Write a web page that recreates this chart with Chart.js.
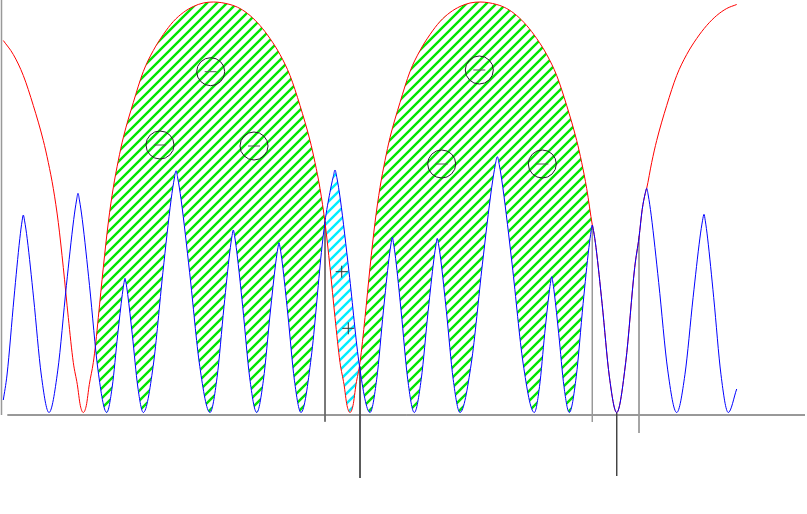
<!DOCTYPE html>
<html>
<head>
<meta charset="utf-8">
<script src="https://cdn.jsdelivr.net/npm/chart.js@4.4.0/dist/chart.umd.min.js"></script>
<style>
  html, body { margin: 0; padding: 0; background: #fff; }
  #wrap { width: 807px; height: 514px; }
</style>
</head>
<body>
<div id="wrap"><canvas id="chart" width="807" height="514"></canvas></div>
<script>
// red arches
var redX = [0.033, 0.133, 0.233, 0.333, 0.433, 0.483, 0.533, 0.583, 0.633, 0.683, 0.733, 0.773, 0.803, 0.833,
  0.863, 0.893, 0.933, 0.958, 0.983, 1.033, 1.083, 1.133, 1.183, 1.233, 1.333, 1.433, 1.533, 1.633, 1.733, 1.833, 1.933, 2.033, 2.135,
  2.30, 2.40, 2.50, 2.60, 2.70, 2.80, 2.90, 3.00, 3.10, 3.15, 3.20, 3.25, 3.30, 3.35, 3.40, 3.44, 3.47, 3.50,
  3.53, 3.56, 3.60, 3.65, 3.70, 3.75, 3.80, 3.85, 3.90, 4.00, 4.10, 4.20, 4.30, 4.40, 4.50, 4.60, 4.70, 4.80,
  4.967, 5.067, 5.167, 5.267, 5.367, 5.467, 5.567, 5.667, 5.767, 5.817, 5.867, 5.923,
  5.935, 5.96, 6.021, 6.094, 6.167, 6.257, 6.347, 6.39, 6.422, 6.452, 6.467,
  6.517, 6.567, 6.667, 6.767, 6.867, 6.967, 7.067, 7.167, 7.267, 7.367];
var redY = [3.72, 3.58, 3.37, 3.07, 2.72, 2.50, 2.24, 1.90, 1.45, 0.95, 0.50, 0.28, 0.07, 0,
  0.07, 0.28, 0.50, 0.70, 0.95, 1.45, 1.90, 2.25, 2.52, 2.75, 3.10, 3.41, 3.62, 3.78, 3.91, 4.00, 4.06, 4.095, 4.105,
  4.08, 4.04, 3.97, 3.87, 3.74, 3.58, 3.37, 3.07, 2.72, 2.50, 2.24, 1.90, 1.45, 0.95, 0.50, 0.28, 0.07, 0,
  0.07, 0.28, 0.50, 0.95, 1.45, 1.90, 2.25, 2.52, 2.75, 3.10, 3.41, 3.62, 3.78, 3.91, 4.00, 4.06, 4.095, 4.105,
  4.08, 4.04, 3.97, 3.87, 3.74, 3.58, 3.37, 3.07, 2.72, 2.50, 2.24, 1.875,
  1.819, 1.65, 1.088, 0.356, 0, 0.50, 1.45, 1.75, 2.03, 2.19, 2.242,
  2.50, 2.72, 3.07, 3.37, 3.58, 3.74, 3.87, 3.97, 4.04, 4.08];

// blue curve
var blueX = [0.033, 0.070, 0.140, 0.198, 0.221, 0.233, 0.246, 0.272, 0.336, 0.413, 0.490,
  0.577, 0.664, 0.737, 0.766, 0.780, 0.794, 0.823, 0.895, 0.981, 1.067,
  1.122, 1.177, 1.223, 1.241, 1.250, 1.259, 1.277, 1.323, 1.378, 1.433,
  1.531, 1.629, 1.711, 1.744, 1.760, 1.777, 1.811, 1.896, 1.998, 2.100,
  2.170, 2.240, 2.298, 2.321, 2.333, 2.345, 2.368, 2.427, 2.497, 2.567,
  2.634, 2.701, 2.757, 2.779, 2.790, 2.801, 2.823, 2.878, 2.944, 3.010,
  3.112, 3.214, 3.250, 3.299, 3.333, 3.350, 3.368, 3.403, 3.490, 3.595, 3.700,
  3.767, 3.834, 3.890, 3.912, 3.923, 3.934, 3.956, 4.011, 4.077, 4.143,
  4.212, 4.281, 4.339, 4.362, 4.373, 4.384, 4.407, 4.464, 4.532, 4.600,
  4.712, 4.824, 4.917, 4.954, 4.973, 4.992, 5.028, 5.121, 5.232, 5.343,
  5.395, 5.447, 5.491, 5.508, 5.517, 5.526, 5.543, 5.587, 5.640, 5.693,
  5.762, 5.831, 5.889, 5.912, 5.923, 5.935, 5.960, 6.021, 6.094, 6.167,
  6.257, 6.347, 6.390, 6.422, 6.452, 6.467, 6.482, 6.512, 6.587, 6.677, 6.767,
  6.849, 6.931, 6.999, 7.026, 7.040, 7.052, 7.076, 7.137, 7.210, 7.283, 7.367];
var blueY = [0.125, 0.375, 1.146, 1.738, 1.916, 1.975, 1.916, 1.738, 1.146, 0.375, 0,
  0.416, 1.271, 1.929, 2.126, 2.192, 2.126, 1.929, 1.271, 0.416, 0,
  0.255, 0.778, 1.181, 1.302, 1.342, 1.302, 1.181, 0.778, 0.255, 0,
  0.459, 1.402, 2.128, 2.345, 2.418, 2.345, 2.128, 1.402, 0.459, 0,
  0.347, 1.059, 1.606, 1.770, 1.825, 1.770, 1.606, 1.059, 0.347, 0,
  0.323, 0.985, 1.494, 1.647, 1.698, 1.647, 1.494, 0.985, 0.323, 0,
  0.55, 1.60, 1.91, 2.20, 2.36, 2.425, 2.352, 2.134, 1.407, 0.461, 0,
  0.333, 1.016, 1.542, 1.699, 1.752, 1.699, 1.542, 1.016, 0.333, 0,
  0.331, 1.010, 1.533, 1.690, 1.742, 1.690, 1.533, 1.010, 0.331, 0,
  0.486, 1.484, 2.251, 2.481, 2.558, 2.481, 2.251, 1.484, 0.486, 0,
  0.258, 0.788, 1.195, 1.317, 1.358, 1.317, 1.195, 0.788, 0.258, 0,
  0.356, 1.088, 1.650, 1.819, 1.875, 1.819, 1.650, 1.088, 0.356, 0,
  0.50, 1.45, 1.75, 2.03, 2.19, 2.242, 2.175, 1.973, 1.300, 0.426, 0,
  0.377, 1.150, 1.744, 1.923, 1.982, 1.923, 1.744, 1.150, 0.377, 0, 0.235];

// signs drawn inside the regions
var minusX = [2.107, 1.600, 2.540, 4.793, 4.417, 5.423];
var minusY = [3.408, 2.675, 2.665, 3.425, 2.485, 2.485];
var plusX = [3.417, 3.483];
var plusY = [1.408, 0.842];

// vertical marks
var dropX = [3.25, 3.60, 5.923, 6.167, 6.39];
var dropTop = [1.91, 0.46, 1.875, 0, 1.76];
var dropBottom = [-0.092, -0.655, -0.095, -0.635, -0.205];

function pts(xs, ys) {
  return xs.map(function(x, i){ return {x: x, y: ys[i]}; });
}

function hatch(color) {
  var s = 10;
  var c = document.createElement('canvas');
  c.width = s; c.height = s;
  var g = c.getContext('2d');
  g.strokeStyle = color;
  g.lineWidth = 2.4;
  g.beginPath();
  g.moveTo(0, s); g.lineTo(s, 0);
  g.moveTo(-2, 2); g.lineTo(2, -2);
  g.moveTo(s - 2, s + 2); g.lineTo(s + 2, s - 2);
  g.stroke();
  return g.createPattern(c, 'repeat');
}

var red = pts(redX, redY);
var blue = pts(blueX, blueY);
var redFill = red.filter(function(p){ return p.x >= 0.958 && p.x <= 5.923; });

var datasets = [];
// 0: blue line
datasets.push({ data: blue, borderColor: '#0000ff', borderWidth: 1, pointRadius: 0, fill: false, cubicInterpolationMode: 'monotone' });
// 1: red line
datasets.push({ data: red, borderColor: '#ff0000', borderWidth: 1, pointRadius: 0, fill: false, cubicInterpolationMode: 'monotone' });
// signs
datasets.push({ data: pts(minusX, minusY), showLine: false, pointStyle: 'circle', pointRadius: 14, borderColor: '#222', borderWidth: 1, backgroundColor: 'rgba(0,0,0,0)' });
datasets.push({ data: pts(minusX, minusY), showLine: false, pointStyle: 'line', pointRadius: 6, borderColor: '#555', borderWidth: 1 });
datasets.push({ data: pts(plusX, plusY), showLine: false, pointStyle: 'cross', pointRadius: 6, borderColor: '#333', borderWidth: 1 });
// vertical marks
var dropCol = ['#666', '#444', '#999', '#444', '#999'];
dropX.forEach(function(x, i){
  datasets.push({ data: [{x: x, y: dropTop[i]}, {x: x, y: dropBottom[i]}], borderColor: dropCol[i], borderWidth: 1, pointRadius: 0, fill: false });
});
// axes
datasets.push({ data: [{x: 0.073, y: -0.025}, {x: 8.05, y: -0.025}], borderColor: '#333', borderWidth: 1, pointRadius: 0, fill: false });
datasets.push({ data: [{x: 0.015, y: 4.125}, {x: 0.015, y: -0.025}], borderColor: '#999', borderWidth: 1.5, pointRadius: 0, fill: false });
// hatched area between red and blue (drawn first)
datasets.push({ data: redFill, borderWidth: 0, pointRadius: 0, cubicInterpolationMode: 'monotone',
  backgroundColor: 'rgba(0,0,0,0)',
  fill: { target: 0, above: hatch('#00e600'), below: hatch('#00eeff') } });

new Chart(document.getElementById('chart'), {
  type: 'line',
  data: { datasets: datasets },
  options: {
    responsive: false,
    animation: false,
    events: [],
    layout: { padding: 0, autoPadding: false },
    plugins: { legend: { display: false }, tooltip: { enabled: false }, filler: { propagate: false } },
    scales: {
      x: { type: 'linear', min: 0, max: 8.07, display: false },
      y: { type: 'linear', min: -1.015, max: 4.125, display: false }
    }
  }
});
</script>
</body>
</html>
